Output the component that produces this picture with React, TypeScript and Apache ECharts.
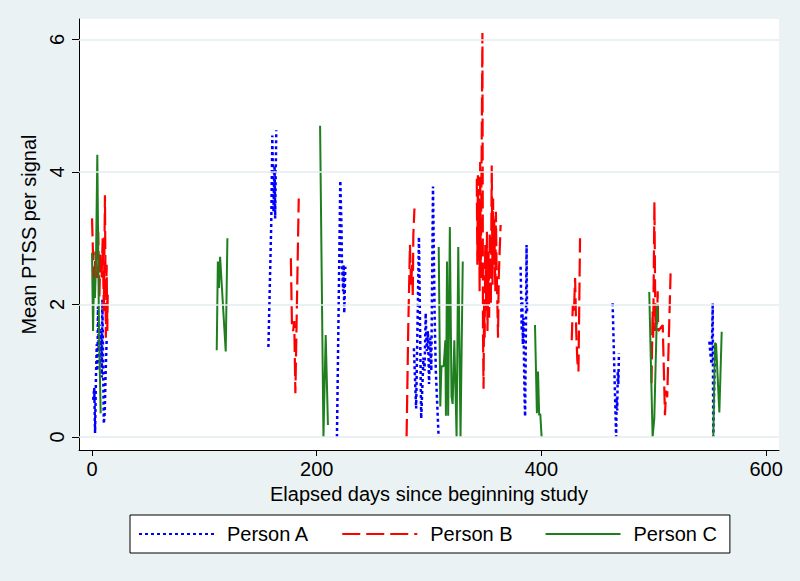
import React, { useEffect, useRef } from 'react';
import * as echarts from 'echarts';

const xTicks = [0, 200, 400, 600];
const yTicks = [0, 2, 4, 6];
const seriesNames = ['Person A', 'Person B', 'Person C'];

// Person A segments: [elapsed day, mean PTSS]
const personA1 = [[1, 0.56], [2, 0.74], [2.7, 0.06], [3.5, 0.9], [4.2, 1.4], [4.8, 1.0], [5.3, 1.97], [6, 1.3], [6.6, 1.7], [7.2, 1.1], [8, 1.6], [8.6, 0.9], [9.2, 2.07], [10.5, 0.2], [11.3, 0.36], [12, 0.9], [13, 1.46]];
const personA2 = [[157, 1.36], [159.5, 3.2], [160.5, 4.55], [161.5, 3.4], [162.5, 4.1], [163, 3.3], [164, 4.63]];
const personA3 = [[218, 0], [221, 3.87], [222, 3.2], [222.5, 2.6], [223.5, 2.2], [224, 2.6], [224.5, 1.87], [225.5, 2.57]];
const personA4 = [[286.5, 1.34], [288.5, 0.43], [291, 3.02], [293, 0.28], [295, 1.2], [296, 1.0], [297, 1.87], [298, 1.3], [299, 1.6], [300, 0.8], [301, 1.5], [302, 1.0], [303.5, 3.78], [305, 1.8], [306, 1.0], [308.5, 0]];
const personA5 = [[381.5, 2.57], [382.5, 1.6], [383, 2.1], [383.5, 1.4], [384, 1.8], [385, 0.6], [385.5, 0.31], [386, 1.2], [386.8, 2.9], [387.2, 1.9]];
const personA6 = [[463.4, 2.02], [466.5, 0], [467, 0.6], [467.5, 0.4], [468, 1.0], [468.5, 0.8], [469, 1.26]];
const personA7 = [[549.5, 1.44], [550.5, 1.25], [551.5, 1.1], [552.5, 2.02], [553, 0], [554, 0.9], [555, 1.42]];

// Person B segments
const personB1 = [[0, 3.3], [0.8, 2.8], [2, 2.3], [3, 2.8], [4.5, 2.4], [5.5, 3.1], [6.5, 2.1], [7.5, 2.8], [8.5, 2.4], [9.5, 3.0], [10.5, 1.9], [11.5, 3.65], [12.3, 1.5], [13, 2.6], [13.6, 1.6], [14, 2.2]];
const personB2 = [[177, 2.7], [178, 1.65], [179, 1.6], [180, 1.75], [181, 0.66], [184, 3.6]];
const personB3 = [[280, 0], [281.5, 1.67], [283, 2.9], [284, 2.3], [285, 2.6], [285.5, 2.1], [286, 3.05], [287, 3.45]];
const personB4 = [[342.5, 3.9], [343, 2.6], [343.5, 3.95], [344, 2.9], [344.5, 3.6], [345, 2.2], [345.5, 4.15], [346, 2.4], [346.5, 3.5], [347.5, 6.1], [348, 1.6], [348.5, 0.73], [349, 2.0], [349.5, 1.5], [350, 2.9], [351, 1.9], [351.5, 3.1], [352, 1.6], [353, 2.8], [353.5, 1.8], [354, 3.1], [355, 2.0], [355.8, 4.1], [356.5, 2.3], [357, 3.6], [357.5, 2.6], [358, 3.3], [359, 2.2], [359.5, 3.4], [360, 2.7], [361.4, 1.5], [362, 2.4], [363.7, 3.2]];
const personB5 = [[427, 1.46], [428, 2.0], [429, 1.9], [430, 2.4], [431, 1.6], [432, 1.15], [433, 0.99], [434.4, 3.0]];
const personB6 = [[498, 0.81], [499, 1.9], [499.5, 1.5], [500.6, 3.55], [501.5, 1.6], [502, 2.0], [503, 1.7], [503.5, 2.2], [504, 1.6], [508, 1.69], [510, 0.33], [511, 0.7], [512, 0.6], [515, 2.47]];

// Person C segments
const personC1 = [[0, 2.78], [0.9, 1.6], [1.8, 2.4], [2.6, 2.1], [3.5, 2.6], [4.7, 4.26], [6.2, 1.6], [7.7, 0.36]];
const personC2 = [[111, 1.31], [112, 2.65], [113, 2.25], [114, 2.72], [119, 1.29], [120.5, 3.0]];
const personC3 = [[203, 4.7], [206, 0], [208, 1.54], [210, 0.18]];
const personC4 = [[308.6, 2.87], [310, 0.46], [311, 1.07], [313, 1.07], [314.5, 1.46], [315, 0.32], [316, 2.65], [317, 0.32], [318.5, 3.17], [320, 0.61], [321, 0.5], [322.5, 1.46], [324.5, 0], [326, 2.87], [328, 0], [330, 2.65]];
const personC5 = [[394.3, 1.69], [396, 0.36], [397, 0.99], [398, 0.33], [399, 0.35], [400.2, 0]];
const personC6 = [[496, 2.19], [499, 0], [500.5, 0.28], [503, 1.99], [503.5, 1.75]];
const personC7 = [[553, 0], [554.5, 1.42], [555.5, 1.4], [558.4, 0.37], [560.5, 1.59]];

const personA = [personA1, personA2, personA3, personA4, personA5, personA6, personA7];
const personB = [personB1, personB2, personB3, personB4, personB5, personB6];
const personC = [personC1, personC2, personC3, personC4, personC5, personC6, personC7];

function withGaps(segments: number[][][]) {
  const out: any[] = [];
  segments.forEach((seg, i) => {
    if (i > 0) out.push(['-', '-']);
    seg.forEach((p) => out.push(p));
  });
  return out;
}

const FONT = '"Liberation Sans", Arial, sans-serif';

export default function App() {
  const ref = useRef<HTMLDivElement>(null);
  useEffect(() => {
    const chart = echarts.init(ref.current!, null, { renderer: 'svg' });
    const lineCommon = {
      type: 'line',
      showSymbol: false,
      symbol: 'none',
      connectNulls: false,
      z: 3,
    };
    chart.setOption({
      animation: false,
      backgroundColor: '#eaf2f3',
      textStyle: { fontFamily: FONT },
      grid: {
        left: 79, right: 21, top: 19, bottom: 131,
        show: true, backgroundColor: '#ffffff', borderWidth: 0,
      },
      xAxis: {
        type: 'value', min: -11.6, max: 611.5,
        axisLine: { show: true, onZero: false, lineStyle: { color: '#000', width: 1 } },
        axisTick: { show: true, length: 6, customValues: xTicks, lineStyle: { color: '#000' } },
        axisLabel: { customValues: xTicks, fontSize: 20, color: '#000', margin: 9, fontFamily: FONT },
        splitLine: { show: false },
        name: 'Elapsed days since beginning study',
        nameLocation: 'middle', nameGap: 33,
        nameTextStyle: { fontSize: 20, color: '#000', fontFamily: FONT },
      },
      yAxis: {
        type: 'value', min: -0.196, max: 6.31,
        axisLine: { show: true, onZero: false, lineStyle: { color: '#000', width: 1 } },
        axisTick: { show: true, length: 7, customValues: yTicks, lineStyle: { color: '#000' } },
        axisLabel: { customValues: yTicks, rotate: 90, fontSize: 20, color: '#000', margin: 12, fontFamily: FONT },
        splitLine: { show: false },
        name: 'Mean PTSS per signal',
        nameLocation: 'middle', nameGap: 32, nameRotate: 90,
        nameTextStyle: { fontSize: 20, color: '#000', fontFamily: FONT },
      },
      legend: {
        data: seriesNames,
        left: 130, top: 515,
        orient: 'horizontal',
        backgroundColor: '#ffffff', borderColor: '#000', borderWidth: 1,
        padding: [9, 13, 9, 8],
        itemWidth: 75, itemHeight: 20, itemGap: 32,
        itemStyle: { color: 'transparent', borderColor: 'transparent', borderWidth: 0, opacity: 0 },
        textStyle: { fontSize: 20, color: '#000', fontFamily: FONT, padding: [0, 0, 0, 8] },
      },
      series: [
        {
          type: 'line', data: [], silent: true, z: 1,
          markLine: {
            silent: true, symbol: ['none', 'none'], label: { show: false },
            lineStyle: { color: '#e3ecee', type: 'solid', width: 1.5 },
            data: yTicks.map((v) => ({ yAxis: v })),
          },
        },
        {
          ...lineCommon, name: seriesNames[0], data: withGaps(personA),
          lineStyle: { color: '#0000ff', width: 2.5, type: [3, 3] },
          itemStyle: { color: '#0000ff' },
        },
        {
          ...lineCommon, name: seriesNames[1], data: withGaps(personB),
          lineStyle: { color: '#ff0000', width: 2.2, type: [18, 6] },
          itemStyle: { color: '#ff0000' },
        },
        {
          ...lineCommon, name: seriesNames[2], data: withGaps(personC),
          lineStyle: { color: '#1f7f1f', width: 2, type: 'solid' },
          itemStyle: { color: '#1f7f1f' },
        },
      ],
    });
    return () => chart.dispose();
  }, []);
  return <div ref={ref} style={{ position: 'fixed', left: 0, top: 0, width: 800, height: 581 }} />;
}
